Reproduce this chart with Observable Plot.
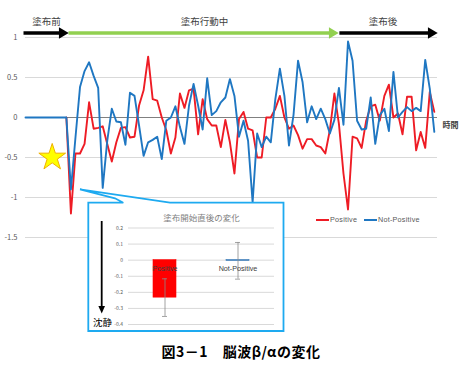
<!DOCTYPE html>
<html><head><meta charset="utf-8">
<script src="https://cdn.jsdelivr.net/npm/d3@7"></script>
<script src="https://cdn.jsdelivr.net/npm/@observablehq/plot@0.6"></script>
<style>
body{margin:0;background:#fff;}
#wrap{position:relative;width:468px;height:374px;overflow:hidden;font-family:"Noto Sans CJK JP","Liberation Sans",sans-serif;}
#wrap > *{position:absolute;}
</style></head><body><div id="wrap"></div>
<script>
// ---- data ----
const positive = [0,0,0,0,0,0,0,0,0,0,
  -1.2,-0.45,-0.45,-0.33,0.19,-0.14,-0.13,-0.11,-0.33,-0.55,
  -0.31,-0.13,-0.12,-0.25,-0.24,0.15,0.34,0.76,0.23,0.21,
  0.0,-0.16,-0.45,-0.25,0.30,0.12,0.34,0.36,-0.21,0.23,
  -0.02,-0.10,-0.10,-0.37,-0.03,-0.31,-0.70,-0.02,0.07,-0.14,
  -0.16,-0.50,-0.50,0,0,0.11,0.27,0,-0.14,-0.10,
  -0.22,-0.39,-0.27,-0.27,-0.35,-0.37,-0.45,-0.16,0.30,-0.08,
  -0.70,-1.15,-0.24,-0.26,-0.38,-0.04,0.14,0.16,-0.04,0.27,
  0.41,0.0,0.05,-0.21,0.26,0.26,-0.41,-0.18,-0.38,0.32,
  0.07];
const notPositive = [0,0,0,0,0,0,0,0,0,0,
  -0.90,-0.25,0.38,0.58,0.69,0.52,0.37,-0.88,-0.29,0.11,
  -0.05,-0.06,-0.34,0.31,0.27,-0.10,-0.48,-0.31,-0.28,-0.24,
  -0.52,-0.04,0.0,0.14,-0.12,-0.33,0.15,0.42,0.15,-0.15,
  0.49,0.03,0.08,0.19,0.25,0.48,0.27,-0.24,-0.04,-0.29,
  -1.06,-0.20,-0.37,-0.24,-0.31,0.23,0.61,0.27,-0.35,0.03,
  0.71,0.44,-0.06,0.14,-0.02,0.11,-0.02,-0.20,-0.03,0.37,
  -0.09,0.95,0.71,-0.04,-0.15,-0.14,0.25,-0.33,0.03,0.11,
  -0.17,0.57,0.0,0.07,0.13,0.08,0.12,0.08,0.72,0.36,
  -0.18];
const yTicks = [1, 0.5, 0, -0.5, -1, -1.5];
const seriesNames = ["Positive", "Not-Positive"];
const seriesColors = ["#ee1c25", "#1f77c2"];
const axisTitle = "時間";
const phases = ["塗布前", "塗布行動中", "塗布後"];
const phaseStart = [-0.44, 9.47, 69.1];
const phaseEnd = [9.47, 68.9, 90.7];
const phaseLabelAt = [4.62, 39.4, 78.7];
const phaseColor = ["#000000", "#92d050", "#000000"];
const starAt = [5.88, -0.5];

const insetTitle = "塗布開始直後の変化";
const insetGroups = ["Positive", "Not-Positive"];
const insetMeans = [-0.233, -0.004];
const insetErrors = [0.117, 0.114];
const insetColors = ["#ff0000", "#2e75b6"];
const insetTicks = [0.2, 0.1, 0, -0.1, -0.2, -0.3, -0.4];
const calmLabel = "沈静";
const caption = "図3－1　脳波β/αの変化";

const FONT = '"Noto Sans CJK JP","Liberation Sans",sans-serif';
const wrap = document.getElementById("wrap");

// ---- main chart ----
const T = d3.range(positive.length);
// where both series sit together on the baseline, the blue one is drawn on top (as in the original)
const firstRed = T.findIndex(i => positive[i] !== 0) - 1;
const P = d3.range(phases.length);
const arrowY = 1.056, labelY = 1.19;
const main = Plot.plot({
  width: 468, height: 340,
  marginLeft: 25, marginRight: 31, marginTop: 37, marginBottom: 103,
  x: {domain: [0, 90.7], axis: null},
  y: {domain: [-1.5, 1], label: null},
  style: {fontFamily: FONT, background: "#fff"},
  marks: [
    Plot.gridY(yTicks.filter(d => d !== 0), {stroke: "#d9d9d9", strokeOpacity: 1}),
    Plot.ruleY([0], {stroke: "#808080", strokeWidth: 1.2}),
    Plot.axisY(yTicks, {tickSize: 0, tickPadding: 8, fontSize: 7.5, fill: "#595959", tickFormat: d => String(d)}),
    Plot.line(T.filter(i => i >= firstRed), {x: d => d, y: d => positive[d], stroke: seriesColors[0], strokeWidth: 1.9}),
    Plot.line(T, {x: d => d, y: d => notPositive[d], stroke: seriesColors[1], strokeWidth: 1.9}),
    Plot.link(P, {x1: i => phaseStart[i], x2: i => phaseEnd[i] - 1.3, y1: arrowY, y2: arrowY,
      stroke: i => phaseColor[i], strokeWidth: 3.6, strokeLinecap: "butt"}),
    Plot.dot(P, {x: i => phaseEnd[i], y: arrowY, symbol: "triangle", r: 4.2, rotate: 90, dx: -6.3,
      fill: i => phaseColor[i], stroke: "none"}),
    Plot.text(P, {x: i => phaseLabelAt[i], y: labelY, text: i => phases[i], fontSize: 9.5, fill: "#404040"}),
    Plot.dot([starAt], {x: d => d[0], y: d => d[1], symbol: "star", r: 8.4, fill: "#ffff00", stroke: "#f0b000", strokeWidth: 1}),
    Plot.text([axisTitle], {x: 90.7, y: -0.1, dx: 5, textAnchor: "start", text: d => d, fontSize: 8, fontWeight: "bold", fill: "#404040"})
  ]
});
main.style.left = "0px"; main.style.top = "0px";
wrap.appendChild(main);

// ---- callout box (annotation) ----
const ns = "http://www.w3.org/2000/svg";
const ov = document.createElementNS(ns, "svg");
ov.setAttribute("width", 468); ov.setAttribute("height", 374);
ov.style.left = "0px"; ov.style.top = "0px";
ov.innerHTML = `<path d="M88.3,202.7 L123.3,202.7 L115,198.3 L80,189.3 L170,202.7 L283.5,202.7 L283.5,331 L88.3,331 Z" fill="#fff" stroke="#1eaaf0" stroke-width="1.8" stroke-linejoin="miter"/>
<line x1="101.7" y1="221" x2="101.7" y2="307" stroke="#000" stroke-width="1.8"/>
<path d="M98.4,306 L105,306 L101.7,313.5 Z" fill="#000"/>
<text x="102.5" y="322" text-anchor="middle" dominant-baseline="central" font-size="9.5" font-family='${FONT}' fill="#000">${calmLabel}</text>`;
wrap.appendChild(ov);

// ---- inset chart ----
const G = d3.range(insetGroups.length);
const inset = Plot.plot({
  width: 196, height: 129,
  marginLeft: 40, marginRight: 10, marginTop: 25.5, marginBottom: 7,
  x: {domain: insetGroups, paddingInner: 0.68, paddingOuter: 0.34, axis: null},
  y: {domain: [-0.4, 0.2], label: null},
  color: {domain: insetGroups, range: insetColors},
  style: {fontFamily: FONT, background: "transparent", overflow: "visible"},
  marks: [
    Plot.gridY(insetTicks, {stroke: "#d9d9d9", strokeOpacity: 1}),
    Plot.axisY(insetTicks, {tickSize: 0, tickPadding: 5.5, fontSize: 5, fill: "#595959", tickFormat: d => String(d)}),
    Plot.barY(G, {x: i => insetGroups[i], y: i => insetMeans[i], fill: i => insetGroups[i], stroke: i => insetGroups[i], strokeWidth: 0.6}),
    Plot.ruleX(G, {x: i => insetGroups[i], y1: i => insetMeans[i] - insetErrors[i], y2: i => insetMeans[i] + insetErrors[i], stroke: "#8c8c8c", strokeWidth: 0.8}),
    Plot.tickY(G, {x: i => insetGroups[i], y: i => insetMeans[i] - insetErrors[i], stroke: "#8c8c8c", strokeWidth: 0.8, insetLeft: 9, insetRight: 9}),
    Plot.tickY(G, {x: i => insetGroups[i], y: i => insetMeans[i] + insetErrors[i], stroke: "#8c8c8c", strokeWidth: 0.8, insetLeft: 9, insetRight: 9}),
    Plot.text(G, {x: i => insetGroups[i], y: -0.05, text: i => insetGroups[i], fontSize: 7.2, fill: "#404040", fontFamily: '"Liberation Sans",sans-serif'}),
    Plot.text([insetTitle], {frameAnchor: "top", dy: -13.5, text: d => d, fontSize: 8.5, fill: "#7f7f7f"})
  ]
});
inset.style.left = "88px"; inset.style.top = "202px";
wrap.appendChild(inset);

// ---- legend ----
const legendX = [316, 364];
seriesNames.forEach((name, i) => {
  const item = document.createElement("div");
  item.style.cssText = `left:${legendX[i]}px;top:215px;display:flex;align-items:center;font:7.2px "Liberation Sans",sans-serif;color:#595959;letter-spacing:0.25px;white-space:nowrap;`;
  item.innerHTML = `<span style="display:inline-block;width:13px;height:2px;background:${seriesColors[i]};margin-right:1px"></span>${name}`;
  wrap.appendChild(item);
});

// ---- caption ----
const cap = document.createElement("div");
cap.textContent = caption;
cap.style.cssText = `left:7px;top:342px;width:468px;text-align:center;font:bold 14px ${FONT};letter-spacing:0.5px;line-height:18px;color:#000;`;
wrap.appendChild(cap);
</script></body></html>
